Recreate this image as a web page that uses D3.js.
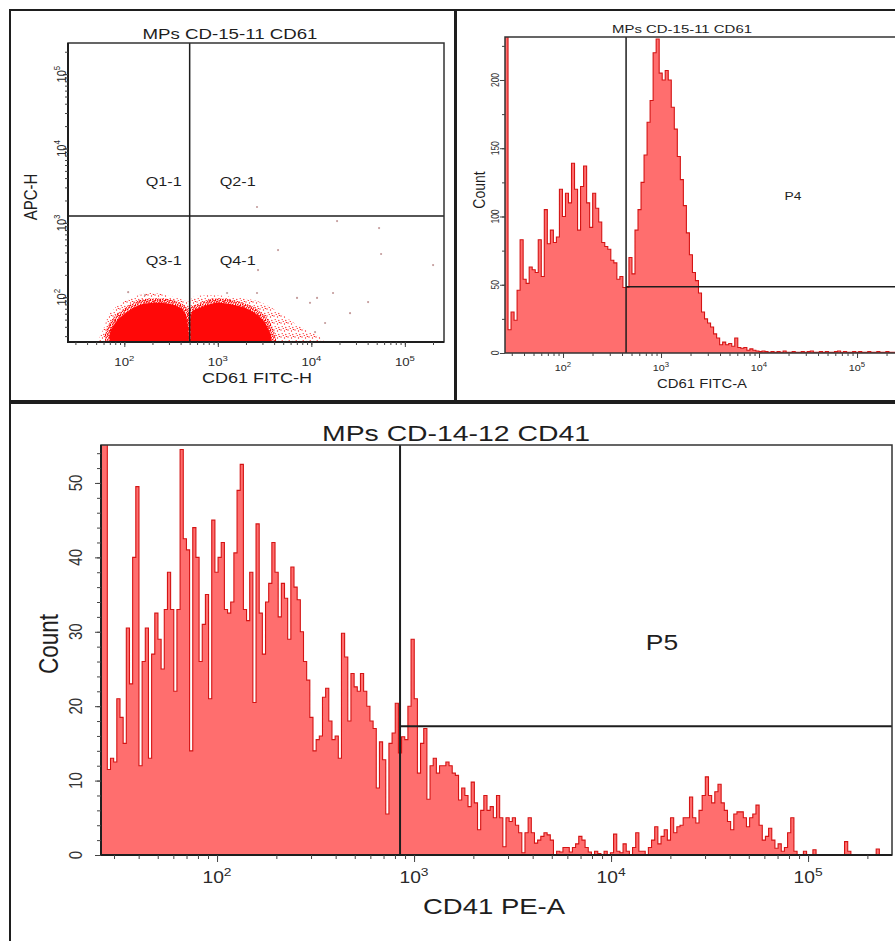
<!DOCTYPE html>
<html><head><meta charset="utf-8">
<script src="https://cdn.jsdelivr.net/npm/d3@7"></script>
<style>
html,body{margin:0;padding:0;background:#fff;}
svg{display:block;font-family:"Liberation Sans",Arial,sans-serif;}
</style></head><body>
<svg id="c" width="895" height="941"></svg>
<script>
// ---------------- DATA ----------------
const logTickExponents = [2, 3, 4, 5];
const cd61CountTicks = [0, 50, 100, 150, 200];
const cd41CountTicks = [0, 10, 20, 30, 40, 50];
const quadrantLabels = ["Q1-1", "Q2-1", "Q3-1", "Q4-1"];
const titleTop = "MPs CD-15-11 CD61";
const titleBottom = "MPs CD-14-12 CD41";

// scatter gates (CD61 FITC-H, APC-H)
const scatterGateX = 500;
const scatterGateY = 1240;
// dense cores and speckled halos of the two populations [CD61 FITC-H, APC-H]
const scatterCoreA = [[70,25],[70,33],[84,49],[107,63],[147,79],[224,84],[332,79],[424,67],[469,49],[490,25]];
const scatterHaloA = [[51,25],[59,36],[70,61],[107,92],[188,114],[332,101],[469,88],[500,84],[500,25]];
const scatterCoreB = [[520,25],[530,63],[645,72],[981,84],[1455,79],[2213,67],[3048,49],[3614,33],[3802,25]];
const scatterHaloB = [[505,25],[510,84],[530,98],[767,107],[1455,101],[2826,86],[4624,61],[7568,40],[12390,29],[14030,25]];
const scatterOutliers = [[2625,1633],[18840,1057],[53000,851],[4406,431],[55700,381],[200400,271],[2692,232],
  [17060,114],[40450,86],[25940,61],[7030,98],[110,117],[167,107],[1256,114],[2625,114],[9680,84],[11510,98],
  [14030,45],[10960,34]];

// CD61 FITC-A histogram (130 channels, log 10^1.408 .. 10^5.418)
const cd61Counts = [300,17,30,24,46,83,54,51,63,61,59,83,56,105,80,90,81,85,120,100,
  117,110,139,120,90,122,137,110,92,117,106,96,81,78,76,68,66,54,56,48,
  48,70,58,90,105,125,145,169,185,220,230,205,200,207,200,180,164,144,127,108,
  88,72,59,53,44,30,25,22,19,14,11,6,8,6,7,5,11,4,3.5,4,
  2,3,2,1.5,1,1.5,1,0.5,1,0.5,1,0.5,1.5,0.5,0.5,1,0.5,0.5,1,0.5,
  1,1.5,0.5,0.5,1,0.5,1,0.5,0.5,1,1.5,0.5,1,0.5,0.5,1,0.5,1,0.5,0.5,
  1,0.5,0.5,1,0.5,0.5,1,0.5,0.5,0.5];
const cd61GateX = 440;
const cd61GateY = 48.5;

// CD41 PE-A histogram (250 channels, log 10^1.411 .. 10^5.426)
const cd41Counts = [80,80,11.5,13,12.5,21,18.5,15,30.5,23,
  40,49.5,12,26,30.5,13,27,32.5,29,25,
  33,38,33,22,33,54.5,42.5,41,14,44,
  40,26,31,35,21,45,38,40,42,33,
  32.5,34,40.6,49,52.5,33,31.5,38,20.5,44.5,
  32.5,27,34,36.5,42,38,32,36.5,34.5,29,
  38.7,36,34.3,30,26,23.5,18.5,14,15.5,16,
  21.2,22.4,18,15.5,16,13,29.8,26.6,18,24.4,
  22.6,22,24.4,22,20,18,17,9,15.2,12.8,
  5.5,15,16.4,20.4,13.7,15.9,15.5,20,29,21,
  11,15,17,7.5,12,13,11,12,12,12.5,
  12,11,10.7,7.4,9,8,6.5,9.8,7,3.4,
  6,8,6,6.5,5,8,5,1.1,5,4.5,
  5,4,3,0.3,3,5,3,1.6,2,2.5,
  3,2.7,2,0,0.5,0.4,1,1,0.4,1,
  1.5,2.5,2,1,0.4,0,0.5,0.2,0,0.5,
  0,0.3,2.8,0.5,0.3,1.5,0.5,0,1,3,
  0.5,0.5,0,1,2,3.8,1.5,2.5,3.4,2,
  5,3,3.8,4,5,5,7.8,5,4.3,6,
  8,10.5,8,7,8.5,9.5,7,6,4.5,3.4,
  5.5,5.8,5.8,5,3.8,5,5.5,6.7,4,2,
  2.5,3.6,2,0.9,1.5,0.5,1,3,5,0.5,
  0,0,0.5,0,0,0.7,0,0,0,0,
  0,0,0,0,0,1.8,0.5,0,0,0,
  0,0,0,0,0,0.8,0,0,0,0];
const cd41GateX = 849;
const cd41GateY = 17.3;

// ---------------- DRAWING ----------------
const svg = d3.select("#c");
const SX = 1.2; // horizontal stretch of the original picture's text
const INK = "#1e1e1e";
const HFILL = "#ff6e6e", HLINE = "#d41414";

const defs = svg.append("defs");
const dense = defs.append("pattern").attr("id","speckDense").attr("patternUnits","userSpaceOnUse")
  .attr("width",5).attr("height",5);
[[0.5,0.5],[2.5,1.2],[4.2,0.3],[1.3,2.8],[3.6,3.1],[0.4,4.3],[2.7,4.5],[4.6,2.0]].forEach(p =>
  dense.append("circle").attr("cx",p[0]).attr("cy",p[1]).attr("r",0.75).attr("fill","#f00"));
const sparse = defs.append("pattern").attr("id","speckSparse").attr("patternUnits","userSpaceOnUse")
  .attr("width",7).attr("height",7);
[[1,1],[4.5,2],[2.2,4.6],[5.8,5.5],[6.4,0.4],[3.3,6.6]].forEach(p =>
  sparse.append("circle").attr("cx",p[0]).attr("cy",p[1]).attr("r",0.65).attr("fill","#f22"));

function clipRect(id, x0, y0, x1, y1) {
  defs.append("clipPath").attr("id", id).append("rect")
    .attr("x", x0).attr("y", y0).attr("width", x1 - x0).attr("height", y1 - y0);
}
function stxt(g, x, y, str, size, opts = {}) {
  const t = g.append("text")
    .attr("transform", `translate(${x},${y}) scale(${SX},1)` + (opts.rot ? ` rotate(${opts.rot})` : ""))
    .attr("text-anchor", opts.anchor || "middle").attr("font-size", size)
    .attr("fill", opts.fill || INK).text(str);
  if (opts.len) t.attr("textLength", opts.len / SX).attr("lengthAdjust", "spacingAndGlyphs");
  return t;
}
function powLabel(g, x, y, exp, size, rot) {
  const t = g.append("text")
    .attr("transform", `translate(${x},${y}) scale(${SX},1)` + (rot ? ` rotate(${rot})` : ""))
    .attr("text-anchor", "middle").attr("font-size", size).attr("fill", "#2a2a2a");
  t.append("tspan").text("10");
  t.append("tspan").attr("font-size", size * 0.72).attr("dy", -size * 0.45).text(exp);
}
function logMinor(scale) {
  const [a, b] = scale.domain(), out = [];
  for (let e = 1; e <= 5; e++) for (let m = 1; m <= 9; m++) {
    const v = m * Math.pow(10, e); if (v >= a && v <= b) out.push(v);
  }
  return out;
}
function tickAxis(g, axisFn, scale, vals, size, transform) {
  const ax = g.append("g").attr("transform", transform)
    .call(axisFn(scale).tickValues(vals).tickSize(size).tickFormat(""));
  ax.select(".domain").remove();
  ax.selectAll("line").attr("stroke", "#444").attr("stroke-width", 1);
}
function histogram(g, counts, lo, hi, x, y, clip) {
  const w = (hi - lo) / counts.length;
  const pts = counts.map((c, i) => [Math.pow(10, lo + i * w), c]);
  pts.push([Math.pow(10, hi), counts[counts.length - 1]]);
  const area = d3.area().x(d => x(d[0])).y0(y(0)).y1(d => y(d[1])).curve(d3.curveStepAfter);
  const line = d3.line().x(d => x(d[0])).y(d => y(d[1])).curve(d3.curveStepAfter);
  g.append("path").datum(pts).attr("d", area).attr("fill", HFILL).attr("clip-path", `url(#${clip})`);
  g.append("path").datum(pts).attr("d", line).attr("fill", "none").attr("stroke", HLINE)
    .attr("stroke-width", 1.1).attr("clip-path", `url(#${clip})`);
}

// panel borders
svg.append("rect").attr("x",10).attr("y",10).attr("width",445).attr("height",391)
  .attr("fill","none").attr("stroke",INK).attr("stroke-width",2);
svg.append("rect").attr("x",456).attr("y",10).attr("width",460).attr("height",391)
  .attr("fill","none").attr("stroke",INK).attr("stroke-width",2);
svg.append("rect").attr("x",10).attr("y",403).attr("width",900).attr("height",560)
  .attr("fill","none").attr("stroke",INK).attr("stroke-width",2);

// ======== Top-left: dot plot ========
{
  const g = svg.append("g");
  const L = 68, R = 444, T = 43, B = 342;
  const x = d3.scaleLog().domain([25, 262144]).range([L, R]);
  const y = d3.scaleLog().domain([25, 262144]).range([B, T]);
  clipRect("clipTL", L, T, R, B);
  const pg = g.append("g").attr("clip-path", "url(#clipTL)");
  const shape = d3.line().x(d => x(d[0])).y(d => y(d[1])).curve(d3.curveCatmullRom);
  [scatterHaloA, scatterHaloB].forEach(p => pg.append("path").attr("d", shape(p)).attr("fill", "url(#speckSparse)"));
  [scatterCoreA, scatterCoreB].forEach(p => pg.append("path").attr("d", shape(p))
    .attr("fill", "none").attr("stroke", "url(#speckDense)").attr("stroke-width", 9));
  [scatterCoreA, scatterCoreB].forEach(p => pg.append("path").attr("d", shape(p)).attr("fill", "#ff0808"));
  pg.selectAll("circle.o").data(scatterOutliers).join("circle").attr("class","o")
    .attr("cx", d => x(d[0])).attr("cy", d => y(d[1])).attr("r", 1.1).attr("fill", "#c49c9c");
  // gates
  g.append("line").attr("x1", x(scatterGateX)).attr("x2", x(scatterGateX)).attr("y1", T).attr("y2", B)
    .attr("stroke", INK).attr("stroke-width", 1.5);
  g.append("line").attr("x1", L).attr("x2", R).attr("y1", y(scatterGateY)).attr("y2", y(scatterGateY))
    .attr("stroke", INK).attr("stroke-width", 1.5);
  // frame
  g.append("rect").attr("x", L).attr("y", T).attr("width", R - L).attr("height", B - T)
    .attr("fill", "none").attr("stroke", "#333").attr("stroke-width", 1.5);
  g.append("path").attr("d", `M${L},${T}V${B}H${R}`).attr("fill","none").attr("stroke",INK).attr("stroke-width",2);
  // ticks
  tickAxis(g, d3.axisBottom, x, logMinor(x), 3, `translate(0,${B})`);
  tickAxis(g, d3.axisBottom, x, logTickExponents.map(e => Math.pow(10, e)), 5, `translate(0,${B})`);
  tickAxis(g, d3.axisLeft, y, logMinor(y), 3, `translate(${L},0)`);
  tickAxis(g, d3.axisLeft, y, logTickExponents.map(e => Math.pow(10, e)), 5, `translate(${L},0)`);
  logTickExponents.forEach(e => {
    powLabel(g, x(Math.pow(10, e)), 366, e, 11);
    powLabel(g, 66, y(Math.pow(10, e)), e, 11, -90);
  });
  // texts
  stxt(g, 230, 39, titleTop, 14.5, { len: 175 });
  const gx = x(scatterGateX);
  stxt(g, gx - 26, 186, quadrantLabels[0], 13.5);
  stxt(g, gx + 48, 186, quadrantLabels[1], 13.5);
  stxt(g, gx - 26, 265, quadrantLabels[2], 13.5);
  stxt(g, gx + 48, 265, quadrantLabels[3], 13.5);
  stxt(g, 257, 383, "CD61 FITC-H", 15, { len: 110 });
  stxt(g, 37, 197, "APC-H", 15, { rot: -90 });
}

// ======== Top-right: CD61 histogram ========
{
  const g = svg.append("g");
  const L = 505, R = 898, T = 37, B = 353;
  const lo = 1.408, hi = 5.418;
  const x = d3.scaleLog().domain([Math.pow(10, lo), Math.pow(10, hi)]).range([L, R]);
  const y = d3.scaleLinear().domain([0, 231.5]).range([B, T]);
  clipRect("clipTR", L, T, R, B);
  histogram(g, cd61Counts, lo, hi, x, y, "clipTR");
  g.append("line").attr("x1", x(cd61GateX)).attr("x2", x(cd61GateX)).attr("y1", T).attr("y2", B)
    .attr("stroke", INK).attr("stroke-width", 1.5);
  g.append("line").attr("x1", x(cd61GateX)).attr("x2", R).attr("y1", y(cd61GateY)).attr("y2", y(cd61GateY))
    .attr("stroke", INK).attr("stroke-width", 1.5);
  g.append("path").attr("d", `M${R},${T}H${L}V${B}H${R}`).attr("fill","none").attr("stroke","#333").attr("stroke-width",1.5);
  tickAxis(g, d3.axisBottom, x, logMinor(x), 3, `translate(0,${B})`);
  tickAxis(g, d3.axisBottom, x, logTickExponents.map(e => Math.pow(10, e)), 5, `translate(0,${B})`);
  tickAxis(g, d3.axisLeft, y, d3.range(0, 231, 25), 3, `translate(${L},0)`);
  tickAxis(g, d3.axisLeft, y, cd61CountTicks, 5, `translate(${L},0)`);
  logTickExponents.forEach(e => powLabel(g, x(Math.pow(10, e)), 371, e, 9));
  cd61CountTicks.forEach(v => stxt(g, 499, y(v), String(v), 8.5, { rot: -90, fill: "#333" }));
  stxt(g, 682, 33, titleTop, 11.5, { len: 140 });
  stxt(g, 702, 388, "CD61 FITC-A", 12.5, { len: 90 });
  stxt(g, 485, 190, "Count", 14, { rot: -90 });
  stxt(g, 793, 200, "P4", 11.5);
}

// ======== Bottom: CD41 histogram ========
{
  const g = svg.append("g");
  const L = 101, R = 892, T = 445, B = 855;
  const lo = 1.411, hi = 5.426;
  const x = d3.scaleLog().domain([Math.pow(10, lo), Math.pow(10, hi)]).range([L, R]);
  const y = d3.scaleLinear().domain([0, 55.1]).range([B, T]);
  clipRect("clipB", L, T, R, B);
  histogram(g, cd41Counts, lo, hi, x, y, "clipB");
  g.append("line").attr("x1", x(cd41GateX)).attr("x2", x(cd41GateX)).attr("y1", T).attr("y2", B)
    .attr("stroke", INK).attr("stroke-width", 2);
  g.append("line").attr("x1", x(cd41GateX)).attr("x2", R).attr("y1", y(cd41GateY)).attr("y2", y(cd41GateY))
    .attr("stroke", INK).attr("stroke-width", 2);
  g.append("rect").attr("x", L).attr("y", T).attr("width", R - L).attr("height", B - T)
    .attr("fill", "none").attr("stroke", "#333").attr("stroke-width", 1.5);
  g.append("path").attr("d", `M${L},${T}V${B}H${R}`).attr("fill","none").attr("stroke",INK).attr("stroke-width",2);
  tickAxis(g, d3.axisBottom, x, logMinor(x), 4, `translate(0,${B})`);
  tickAxis(g, d3.axisBottom, x, logTickExponents.map(e => Math.pow(10, e)), 7, `translate(0,${B})`);
  tickAxis(g, d3.axisLeft, y, d3.range(0, 55, 2), 4, `translate(${L},0)`);
  tickAxis(g, d3.axisLeft, y, cd41CountTicks, 6, `translate(${L},0)`);
  logTickExponents.forEach(e => powLabel(g, x(Math.pow(10, e)), 883, e, 16));
  cd41CountTicks.forEach(v => stxt(g, 82, y(v), String(v), 15, { rot: -90, fill: "#333" }));
  stxt(g, 456, 441, titleBottom, 21.5, { len: 268 });
  stxt(g, 494, 914, "CD41 PE-A", 22, { len: 142 });
  stxt(g, 58, 644, "Count", 22.5, { rot: -90 });
  stxt(g, 662, 650, "P5", 22);
}
</script>
</body></html>
